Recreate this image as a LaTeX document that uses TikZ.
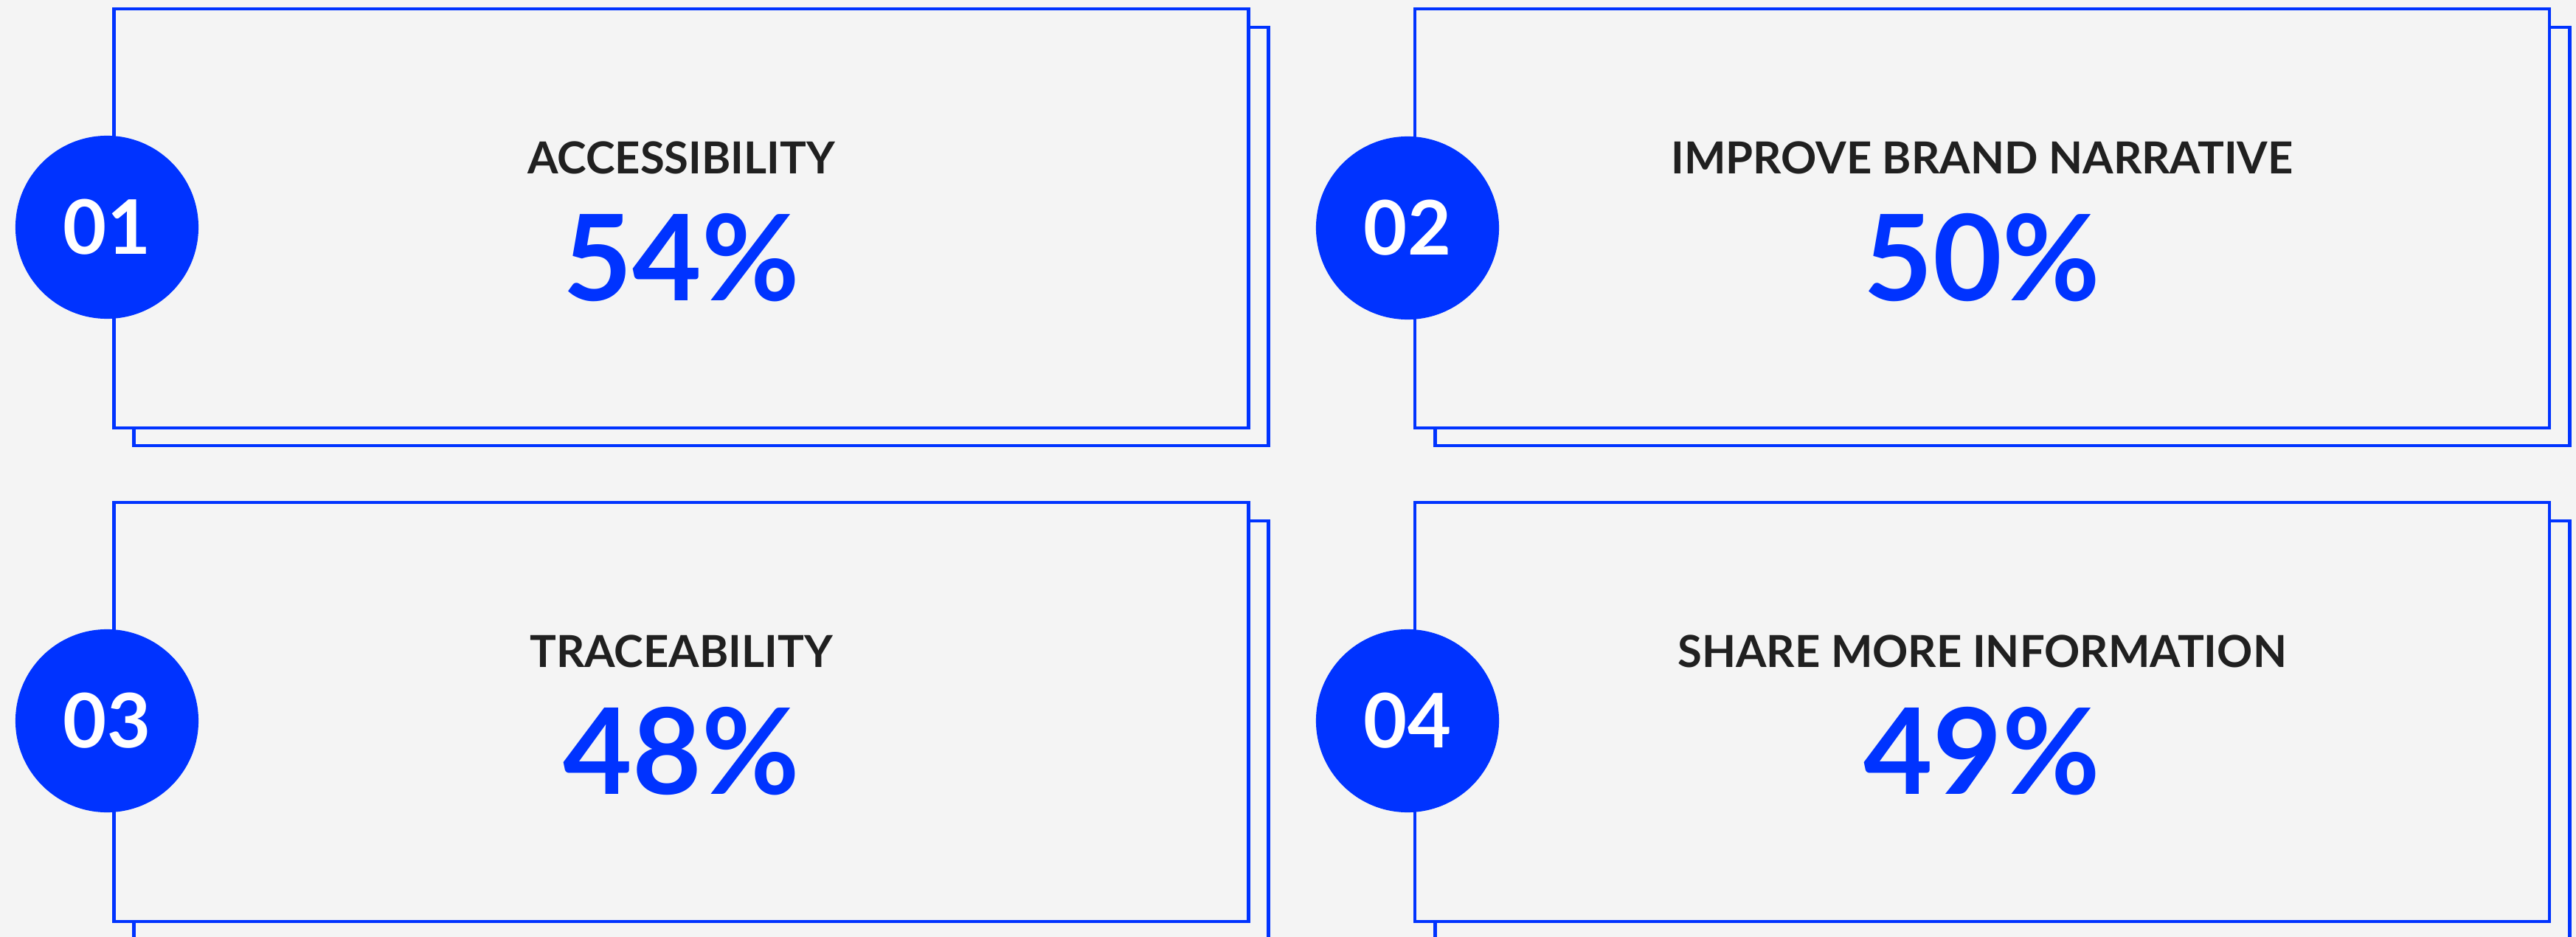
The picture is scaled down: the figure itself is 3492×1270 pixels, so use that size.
\documentclass[tikz,border=0pt]{standalone}
\usepackage{fontspec}
\setmainfont{Lato}
\definecolor{brandblue}{HTML}{0033FF}
\definecolor{bgcol}{HTML}{F4F4F4}
\definecolor{titlecol}{HTML}{202020}
\begin{document}
\begin{tikzpicture}[x=0.01cm,y=-0.01cm,
  backbox/.style={draw=brandblue,line width=1.3pt,fill=bgcol,minimum width=15.37cm,minimum height=5.67cm,inner sep=0pt,outer sep=0pt},
  frontbox/.style={draw=brandblue,line width=1.3pt,fill=bgcol,minimum width=15.37cm,minimum height=5.68cm,inner sep=0pt,outer sep=0pt},
  numdisc/.style={circle,fill=brandblue,minimum size=2.48cm,inner sep=0pt,text=white,font=\fontsize{29}{29}\selectfont\bfseries},
  titletext/.style={anchor=base,text=titlecol,inner sep=0pt,font=\fontsize{17}{17}\selectfont\bfseries},
  pcttext/.style={anchor=base,text=brandblue,inner sep=0pt,font=\fontsize{46}{46}\selectfont\bfseries}
]
\useasboundingbox[fill=bgcol] (0,0) rectangle (3492,1270);
% back boxes
\node[backbox] (k1) at (950.5,320.5) {};
\node[backbox] (k2) at (2714.5,320.5) {};
\node[backbox] (k3) at (950.5,989.5) {};
\node[backbox] (k4) at (2714.5,989.5) {};
% front boxes
\node[frontbox] (f1) at (923.5,296) {};
\node[frontbox] (f2) at (2687,296) {};
\node[frontbox] (f3) at (923.5,965) {};
\node[frontbox] (f4) at (2687,965) {};
% discs
\node[numdisc] (n1) at (145,308) {01};
\node[numdisc] (n2) at (1908,309) {02};
\node[numdisc] (n3) at (145,977) {03};
\node[numdisc] (n4) at (1908,977) {04};
% titles
\node[titletext] (t1) at (923.5,236) {ACCESSIBILITY};
\node[titletext] (t2) at (2687,236) {IMPROVE BRAND NARRATIVE};
\node[titletext] (t3) at (923.5,905) {TRACEABILITY};
\node[titletext] (t4) at (2687,905) {SHARE MORE INFORMATION};
% percentages
\node[pcttext] (p1) at (923.5,408) {54\%};
\node[pcttext] (p2) at (2687,408) {50\%};
\node[pcttext] (p3) at (923.5,1077) {48\%};
\node[pcttext] (p4) at (2687,1077) {49\%};
\end{tikzpicture}
\end{document}
